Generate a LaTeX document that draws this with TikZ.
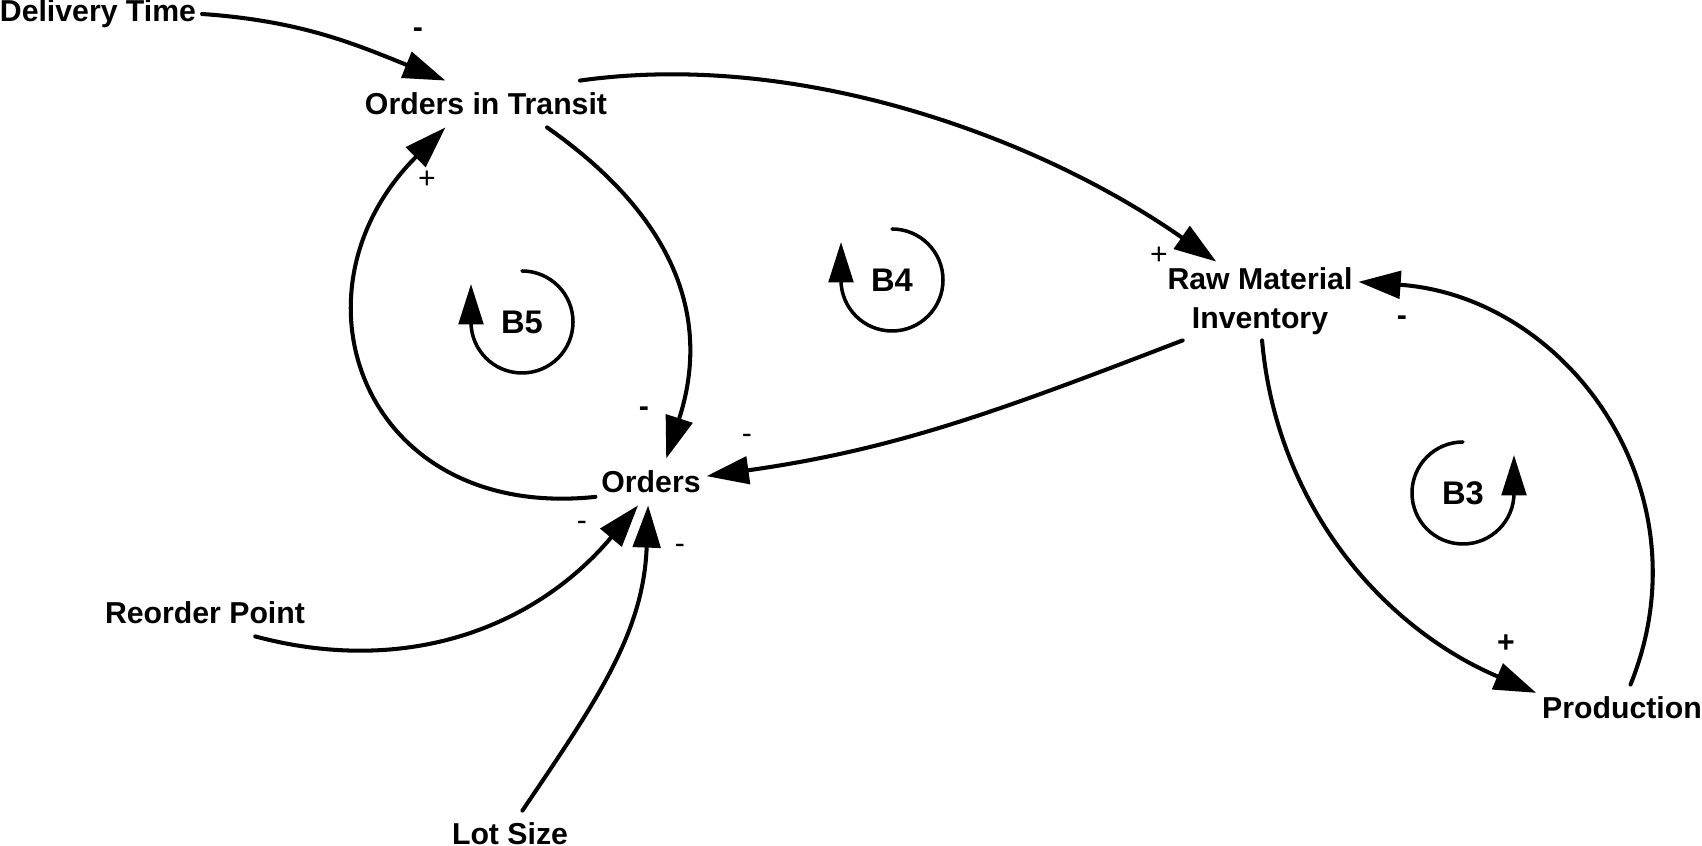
\documentclass[tikz,border=0pt]{standalone}
\usepackage{fontspec}
\setmainfont{Liberation Sans}
\usetikzlibrary{arrows.meta}

\begin{document}
\begin{tikzpicture}[
    x=0.01cm, y=0.01cm,
    quantity/.style={font=\bfseries\fontsize{8.6}{11}\selectfont, align=center, inner xsep=1.5pt, inner ysep=3.3pt},
    loopname/.style={font=\bfseries\fontsize{9.3}{11}\selectfont, inner sep=0pt},
    sign/.style={font=\fontsize{8.6}{10}\selectfont, inner sep=0pt},
    arr/.style={-{Triangle[length=12pt, width=7.8pt]}, line width=1.15pt, line cap=round},
    looparr/.style={-{Triangle[length=11.5pt, width=7pt]}, line width=1pt, line cap=round}
]
\useasboundingbox (0,0) rectangle (1702,846);

% Variables
\node[quantity] (dt) at (98, 832) {Delivery Time};
\node[quantity] (oit) at (486, 742) {Orders in Transit};
\node[quantity, inner ysep=1.5pt] (rmi) at (1260, 545) {Raw Material\\Inventory};
\node[quantity] (ord) at (651, 364) {Orders};
\node[quantity] (rop) at (205, 233) {Reorder Point};
\node[quantity] (lot) at (510, 12) {Lot Size};
\node[quantity] (prod) at (1622, 138) {Production};

% Loop markers
\node[loopname] (b5) at (522, 524) {B5};
\node[loopname] (b4) at (892, 566) {B4};
\node[loopname] (b3) at (1463, 353) {B3};

\draw[looparr] (b5) ++(0,51) arc[start angle=90, end angle=-180, radius=51] -- ++(0,38);
\draw[looparr] (b4) ++(0,51) arc[start angle=90, end angle=-180, radius=51] -- ++(0,38);
\draw[looparr] (b3) ++(0,51) arc[start angle=90, end angle=360, radius=51] -- ++(0,38);

% Causal links
\draw[arr] (dt.east) to[out=-4, in=158] (oit.150);
\draw[arr] (oit.14) to[out=8, in=145, looseness=0.85] (rmi.138);
\draw[arr] (oit.339) to[out=-35, in=72, looseness=1.1] (ord.57);
\draw[arr] (ord.195) to[out=186, in=225, looseness=1.5] (oit.210);
\draw[arr] (rmi.207) to[out=201, in=8] (ord.6);
\draw[arr] (rmi.273) to[out=-85, in=157, looseness=0.95] (prod.170);
\draw[arr] (prod.70) to[out=68, in=-4, looseness=1.1] (rmi.11);
\draw[arr] (rop.335) to[out=-15, in=230] (ord.241);
\draw[arr] (lot.62) to[out=56, in=-92] (ord.263);

% Polarities
\node[sign, font=\bfseries\fontsize{8.6}{10}\selectfont] (s1) at (418, 813) {-};
\node[sign] (s2) at (1159, 590) {+};
\node[sign, font=\bfseries\fontsize{8.6}{10}\selectfont] (s3) at (644, 434) {-};
\node[sign] (s4) at (427, 666) {+};
\node[sign] (s5) at (747, 407) {-};
\node[sign, font=\bfseries\fontsize{8.6}{10}\selectfont] (s6) at (1506, 202) {+};
\node[sign, font=\bfseries\fontsize{8.6}{10}\selectfont] (s7) at (1402, 525) {-};
\node[sign] (s8) at (582, 320) {-};
\node[sign] (s9) at (680, 297) {-};
\end{tikzpicture}
\end{document}
